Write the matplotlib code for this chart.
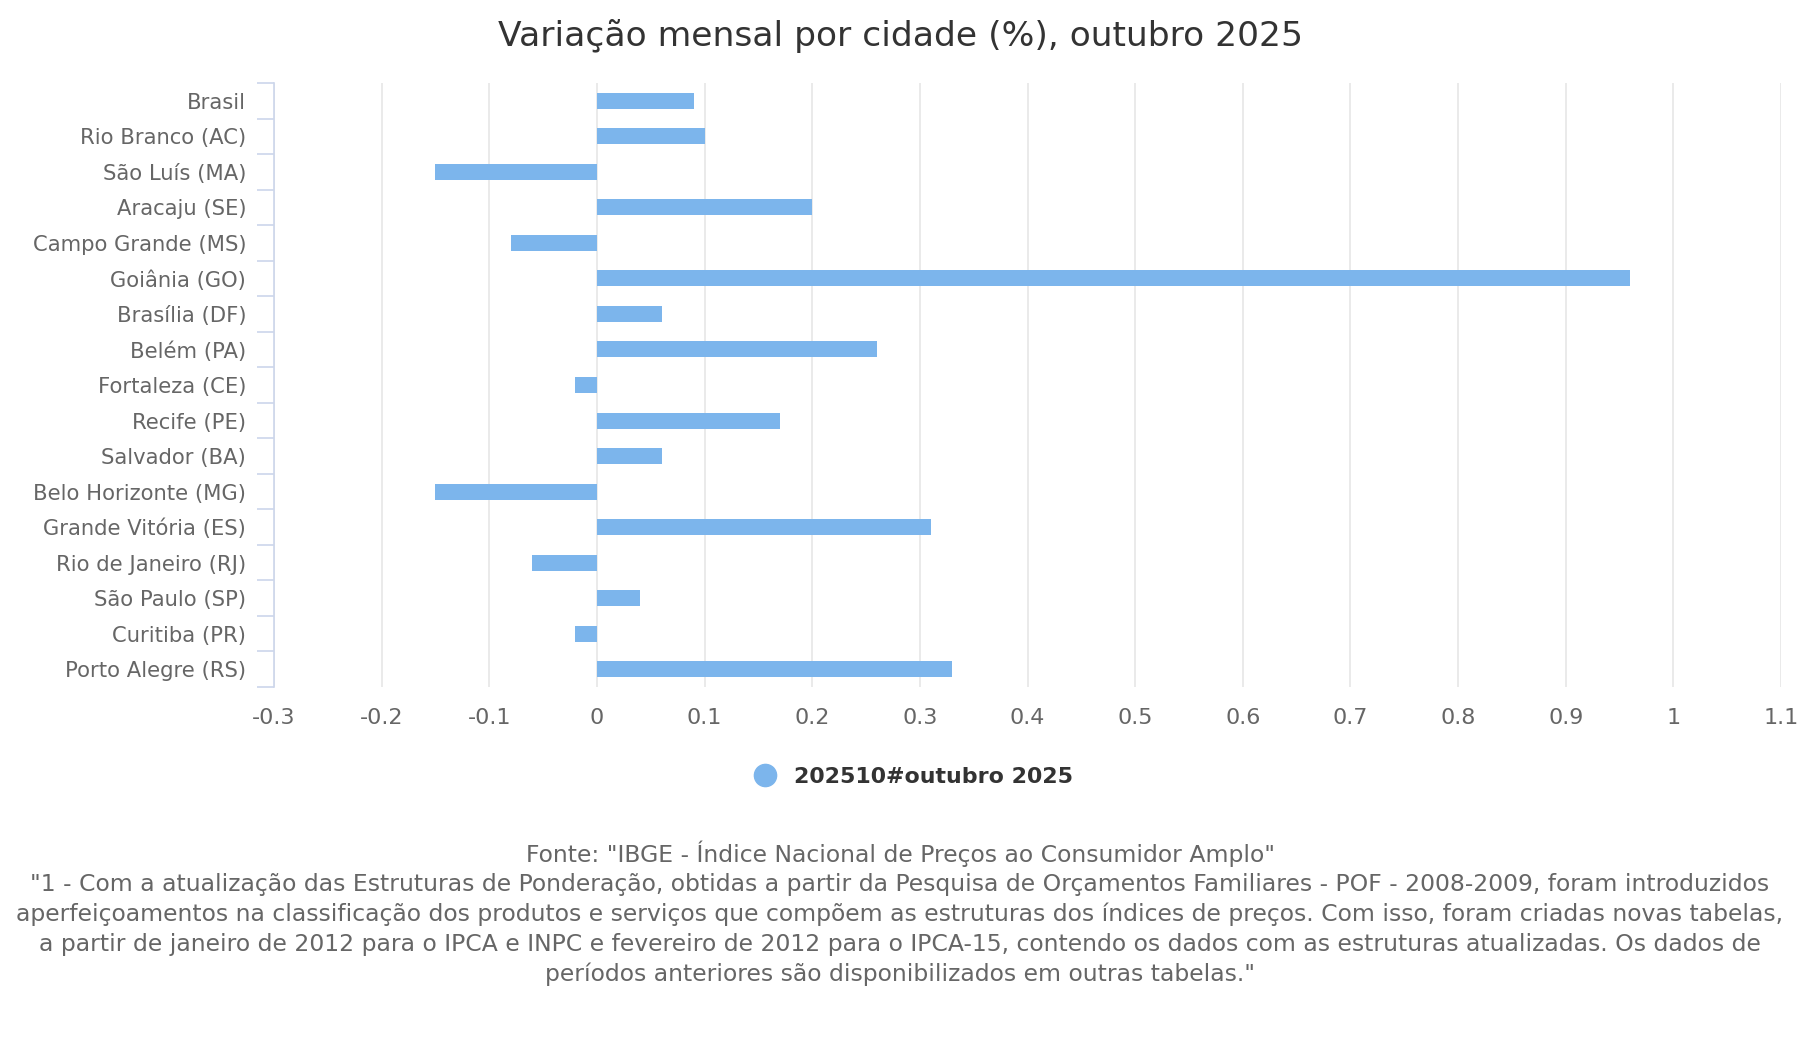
import matplotlib
matplotlib.use('Agg')
import matplotlib.pyplot as plt
from matplotlib.lines import Line2D

cidades = ['Brasil', 'Rio Branco (AC)', 'São Luís (MA)', 'Aracaju (SE)', 'Campo Grande (MS)',
           'Goiânia (GO)', 'Brasília (DF)', 'Belém (PA)', 'Fortaleza (CE)', 'Recife (PE)',
           'Salvador (BA)', 'Belo Horizonte (MG)', 'Grande Vitória (ES)', 'Rio de Janeiro (RJ)',
           'São Paulo (SP)', 'Curitiba (PR)', 'Porto Alegre (RS)']
variacao = [0.09, 0.10, -0.15, 0.20, -0.08, 0.96, 0.06, 0.26, -0.02, 0.17,
            0.06, -0.15, 0.31, -0.06, 0.04, -0.02, 0.33]
xticks = [-0.3, -0.2, -0.1, 0, 0.1, 0.2, 0.3, 0.4, 0.5, 0.6, 0.7, 0.8, 0.9, 1, 1.1]
serie = '202510#outubro 2025'
titulo = 'Variação mensal por cidade (%), outubro 2025'
rodape = ['Fonte: "IBGE - Índice Nacional de Preços ao Consumidor Amplo"',
          '"1 - Com a atualização das Estruturas de Ponderação, obtidas a partir da Pesquisa de Orçamentos Familiares - POF - 2008-2009, foram introduzidos',
          'aperfeiçoamentos na classificação dos produtos e serviços que compõem as estruturas dos índices de preços. Com isso, foram criadas novas tabelas,',
          'a partir de janeiro de 2012 para o IPCA e INPC e fevereiro de 2012 para o IPCA-15, contendo os dados com as estruturas atualizadas. Os dados de',
          'períodos anteriores são disponibilizados em outras tabelas."']

plt.rcParams['font.family'] = ['DejaVu Sans']
plt.rcParams['axes.unicode_minus'] = False

cor = '#7cb5ec'
fig = plt.figure(figsize=(18, 10.58), dpi=100, facecolor='white')
ax = fig.add_axes([274/1800, 1-687/1058, 1507/1800, 604/1058])

pos = list(range(len(cidades)))
ax.barh(pos, variacao, height=0.45, color=cor, zorder=3)
ax.set_ylim(len(cidades)-0.5, -0.5)
ax.set_xlim(-0.3, 1.1)
ax.set_xticks(xticks)
ax.set_xticklabels([('%g' % v) for v in xticks])
ax.set_yticks(pos)
ax.set_yticklabels(cidades)
ax.set_yticks([p - 0.5 for p in pos] + [len(cidades)-0.5], minor=True)

ax.grid(axis='x', color='#e6e6e6', linewidth=1.2, zorder=0)
for s in ['top', 'right', 'bottom']:
    ax.spines[s].set_visible(False)
ax.spines['left'].set_color('#ccd6eb')
ax.spines['left'].set_linewidth(1.2)
ax.spines['left'].set_zorder(4)

ax.tick_params(axis='y', which='major', length=0, pad=20, labelsize=15.2, labelcolor='#666666')
ax.tick_params(axis='y', which='minor', length=12, width=1.2, color='#ccd6eb', direction='out')
ax.tick_params(axis='x', length=0, pad=15, labelsize=16, labelcolor='#666666')
for t in ax.get_yticklabels():
    t.set_y(t.get_position()[1])
    t.set_va('center_baseline')

fig.text(0.5, 1-36/1058, titulo, ha='center', va='center', fontsize=24.8, color='#333333')

h = Line2D([], [], marker='o', linestyle='none', markersize=16, markerfacecolor=cor, markeredgecolor=cor)
fig.legend([h], [serie], loc='center', bbox_to_anchor=(0.5045, 1-777/1058), frameon=False,
           prop={'size': 15.9, 'weight': 'bold'}, labelcolor='#333333', handletextpad=0.3)

for i, linha in enumerate(rodape):
    fig.text(0.5, 1-(854+30*i)/1058, linha, ha='center', va='center', fontsize=16.9, color='#666666')

fig.savefig('out.png', dpi=100, facecolor='white')
